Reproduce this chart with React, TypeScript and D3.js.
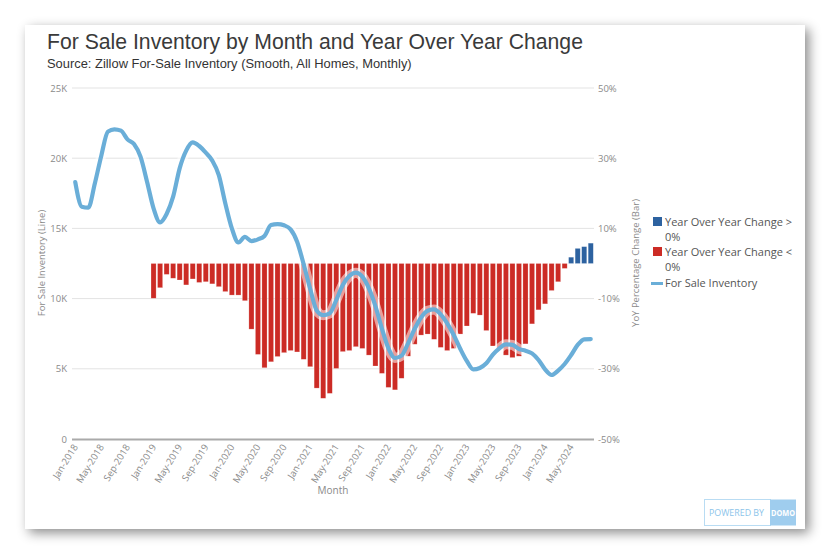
import React from "react";
import * as d3 from "d3";

const MONTHS = ["Jan","Feb","Mar","Apr","May","Jun","Jul","Aug","Sep","Oct","Nov","Dec"];
const YEARS = [2018, 2019, 2020, 2021, 2022, 2023, 2024];
const categories: string[] = [];
YEARS.forEach((y) => MONTHS.forEach((m) => categories.push(`${m}-${y}`)));
const months = categories.slice(0, 80); // Jan-2018 .. Aug-2024

const inventory = [
  18.3, 16.55, 16.48, 18.2, 20.2, 21.89, 22.06, 21.96, 21.34, 21.01, 20.11, 18.33,
  16.43, 15.43, 16.03, 17.26, 19.28, 20.54, 21.13, 20.87, 20.39, 19.83, 18.8, 16.78,
  15.0, 14.0, 14.39, 14.1, 14.22, 14.46, 15.24, 15.31, 15.22, 14.93, 14.05, 12.45,
  10.7, 9.15, 8.82, 8.95, 9.9, 10.97, 11.61, 11.85, 11.56, 10.73, 9.47, 7.86,
  6.46, 5.77, 5.94, 6.81, 7.83, 8.66, 9.14, 9.23, 8.88, 8.24, 7.41, 6.43,
  5.56, 4.96, 5.06, 5.39, 6.01, 6.46, 6.74, 6.7, 6.41, 6.29, 6.1, 5.63,
  4.96, 4.56, 4.87, 5.34, 5.98, 6.7, 7.1, 7.12,
].map((v) => v * 1000);

// YoY change, Jan-2019 .. Aug-2024
const yoyStart = 12;
const yoy = [
  -9.9, -6.9, -3.1, -4.2, -4.7, -6.1, -4.4, -5.4, -5.2, -5.8, -6.6, -8.0,
  -9.0, -9.0, -10.6, -18.7, -25.9, -29.7, -28.0, -26.5, -25.4, -24.8, -25.2, -27.3,
  -29.4, -35.5, -38.4, -37.0, -29.9, -25.1, -24.8, -23.7, -24.2, -26.1, -29.2, -31.3,
  -35.3, -36.0, -32.7, -26.4, -23.0, -20.4, -20.1, -21.6, -23.9, -24.8, -24.2, -20.1,
  -17.8, -14.2, -14.7, -19.1, -23.5, -24.2, -26.1, -26.8, -26.4, -22.9, -17.2, -13.2,
  -11.5, -7.7, -5.2, -1.4, 1.8, 4.3, 4.8, 5.8,
];

const leftTicks = [0, 5000, 10000, 15000, 20000, 25000];
const rightTicks = [-50, -30, -10, 10, 30, 50];

const LINE_COLOR = "#6aaed8";
const RED = "#cc2b25";
const BLUE = "#2d62a0";
const TICK_COLOR = "#8a8a8a";
const FONT = "'Open Sans', 'Noto Sans', sans-serif";

export default function App() {
  const W = 830, H = 555;
  const x = d3.scaleBand<string>().domain(months).range([72, 594]).paddingInner(0.22).paddingOuter(0.11);
  const cx = (m: string) => (x(m) as number) + x.bandwidth() / 2;
  const yL = d3.scaleLinear().domain([0, 25000]).range([439, 88]);
  const yR = d3.scaleLinear().domain([-50, 50]).range([439, 88]);

  const lineData = months.map((m, i) => ({ m, v: inventory[i] }));
  const lineGen = d3.line<{ m: string; v: number }>().x((d) => cx(d.m)).y((d) => yL(d.v)).curve(d3.curveMonotoneX);
  const path = lineGen(lineData) || "";

  const bars = yoy.map((v, i) => ({ m: months[i + yoyStart], v }));
  const tickMonths = months.filter((_, i) => i % 4 === 0);

  return (
    <svg width={W} height={H} style={{ display: "block", position: "absolute", left: 0, top: 0 }}>
      <defs>
        <filter id="sh" x="-10%" y="-10%" width="120%" height="120%">
          <feDropShadow dx="4" dy="4" stdDeviation="6" floodColor="#000" floodOpacity="0.45" />
        </filter>
      </defs>
      <rect x={0} y={0} width={W} height={H} fill="#fff" />
      <rect x={25} y={25} width={780} height={504} fill="#fff" filter="url(#sh)" />

      <text x={47} y={49} fontFamily="'Liberation Sans', Arial, sans-serif" fontSize={21.2} fill="#3a3a3a">
        For Sale Inventory by Month and Year Over Year Change
      </text>
      <text x={47} y={68} fontFamily="'Liberation Sans', Arial, sans-serif" fontSize={12.9} fill="#333">
        Source: Zillow For-Sale Inventory (Smooth, All Homes, Monthly)
      </text>

      {/* gridlines */}
      {leftTicks.map((t) => (
        t === 0 ? null : <line key={t} x1={72} x2={594} y1={yL(t)} y2={yL(t)} stroke="#e3e3e3" strokeWidth={1} />
      ))}
      {/* left ticks */}
      {leftTicks.map((t) => (
        <text key={"l" + t} x={67} y={yL(t) + 3.5} textAnchor="end" fontFamily={FONT} fontSize={9.5} fill={TICK_COLOR}>
          {t === 0 ? "0" : `${t / 1000}K`}
        </text>
      ))}
      {rightTicks.map((t) => (
        <text key={"r" + t} x={598} y={yR(t) + 3.5} textAnchor="start" fontFamily={FONT} fontSize={9.5} fill={TICK_COLOR}>
          {`${t}%`}
        </text>
      ))}

      {/* bars */}
      {bars.map((b) => (
        <rect
          key={b.m}
          x={x(b.m) as number}
          width={x.bandwidth()}
          y={Math.min(yR(0), yR(b.v))}
          height={Math.abs(yR(b.v) - yR(0))}
          fill={b.v >= 0 ? BLUE : RED}
          stroke="#fff"
          strokeOpacity={0.35}
          strokeWidth={0.6}
        />
      ))}

      {/* line */}
      <path d={path} fill="none" stroke="#fff" strokeOpacity={0.55} strokeWidth={10} strokeLinejoin="round" strokeLinecap="round" />
      <path d={path} fill="none" stroke={LINE_COLOR} strokeWidth={4.2} strokeLinejoin="round" strokeLinecap="round" />

      {/* x axis */}
      <line x1={72} x2={594} y1={439.5} y2={439.5} stroke="#aaa" strokeWidth={2} />
      {tickMonths.map((m) => (
        <text
          key={m}
          transform={`translate(${cx(m) + 3},${447}) rotate(-58)`}
          textAnchor="end"
          fontFamily={FONT}
          fontSize={9.5}
          fill={TICK_COLOR}
        >
          {m}
        </text>
      ))}
      <text x={333} y={494} textAnchor="middle" fontFamily={FONT} fontSize={10} fill={TICK_COLOR}>Month</text>
      <text transform={`translate(45,${263}) rotate(-90)`} textAnchor="middle" fontFamily={FONT} fontSize={9.5} fill={TICK_COLOR}>
        For Sale Inventory (Line)
      </text>
      <text transform={`translate(639,${263}) rotate(-90)`} textAnchor="middle" fontFamily={FONT} fontSize={9.5} fill={TICK_COLOR}>
        YoY Percentage Change (Bar)
      </text>

      {/* legend */}
      <g fontFamily={FONT} fontSize={11} fill="#555">
        <rect x={653} y={217} width={9} height={9} fill={BLUE} />
        <text x={665} y={226}>Year Over Year Change &gt;</text>
        <text x={665} y={241}>0%</text>
        <rect x={653} y={247} width={9} height={9} fill={RED} />
        <text x={665} y={256}>Year Over Year Change &lt;</text>
        <text x={665} y={271}>0%</text>
        <rect x={651} y={282} width={12} height={3} fill={LINE_COLOR} />
        <text x={665} y={287}>For Sale Inventory</text>
      </g>

      {/* powered by domo */}
      <rect x={704.5} y={499.5} width={66} height={26} fill="#fff" stroke="#b9dcf3" strokeWidth={1} />
      <rect x={770} y={499.5} width={26} height={26} fill="#9fcdee" />
      <text x={709} y={516} textLength={55} lengthAdjust="spacingAndGlyphs" fontFamily={FONT} fontSize={9} fill="#8cc4ea">POWERED BY</text>
      <text x={771} y={516} textLength={24} lengthAdjust="spacingAndGlyphs" fontFamily={FONT} fontSize={9} fontWeight={700} fill="#fff">DOMO</text>
    </svg>
  );
}
